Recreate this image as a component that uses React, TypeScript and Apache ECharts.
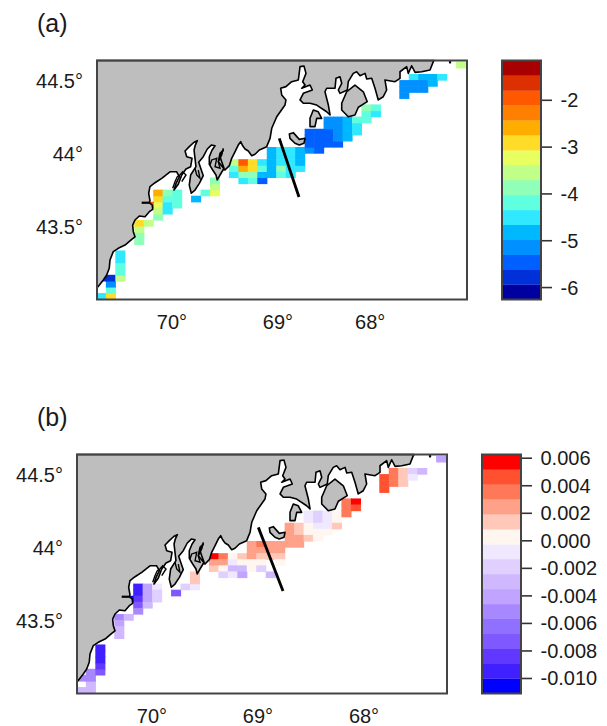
import React, { useEffect, useRef } from "react";
import * as echarts from "echarts";

const FONT = '"Liberation Sans", Arial, sans-serif';
const TEXT = "#1a1a1a";
const FRAME = "#444444";
const LAND = "#BEBEBE";

const LON_MAX = 70.7075;
const LON_MIN = 67.217;
const LAT_MIN = 43.0034;
const LAT_MAX = 44.64;
const LAT_TICKS = [43.5, 44, 44.5];
const LON_LABELS_A = [70, 69, 68.13];
const LON_LABELS_B = [70, 69, 68];

// grid of the model: cell index -> degrees
const CELL_LON0 = 70.7104;
const CELL_DLON = 0.0893;
const CELL_LAT0 = 43.0038;
const CELL_DLAT = 0.04167;

const coast: number[][] = [
  [70.698,43.091],[70.648,43.137],[70.616,43.171],[70.592,43.217],[70.585,43.274],[70.554,43.331],[70.507,43.354],[70.443,43.376],
  [70.380,43.415],[70.349,43.433],[70.365,43.468],[70.371,43.513],[70.349,43.548],[70.308,43.575],[70.255,43.570],[70.214,43.605],
  [70.182,43.621],[70.186,43.650],[70.214,43.666],[70.208,43.680],[70.220,43.731],[70.208,43.776],[70.160,43.803],[70.097,43.833],
  [70.019,43.878],[69.956,43.878],[69.931,43.844],[69.962,43.799],[69.981,43.753],[69.941,43.792],[69.908,43.856],[69.868,43.897],
  [69.824,43.913],[69.811,43.970],[69.861,43.981],[69.877,44.020],[69.837,44.050],[69.792,44.080],[69.761,44.091],[69.780,44.061],
  [69.792,44.027],[69.783,43.970],[69.774,43.913],[69.824,43.856],[69.837,43.787],[69.818,43.731],[69.783,43.753],[69.742,43.799],
  [69.705,43.851],[69.729,43.902],[69.748,43.943],[69.705,43.981],[69.667,44.034],[69.629,44.061],[69.594,44.056],[69.623,44.025],
  [69.648,43.981],[69.648,43.929],[69.616,43.890],[69.585,43.856],[69.573,43.822],[69.547,43.856],[69.509,43.902],[69.531,43.947],
  [69.547,43.981],[69.516,44.027],[69.547,44.004],[69.563,43.947],[69.500,43.890],[69.459,43.920],[69.437,43.970],[69.406,44.015],
  [69.375,44.061],[69.352,44.084],[69.333,44.056],[69.311,44.034],[69.280,44.020],[69.248,43.988],[69.217,43.998],[69.176,44.027],
  [69.107,44.050],[69.075,44.107],[69.059,44.176],[69.012,44.255],[68.934,44.335],[68.925,44.370],[68.965,44.404],[68.975,44.450],
  [68.925,44.461],[68.871,44.495],[68.808,44.507],[68.792,44.598],[68.755,44.602],[68.736,44.552],[68.767,44.495],[68.745,44.472],
  [68.776,44.450],[68.698,44.472],[68.676,44.438],[68.761,44.415],[68.792,44.370],[68.761,44.347],[68.698,44.347],[68.635,44.335],
  [68.541,44.289],[68.509,44.267],[68.525,44.335],[68.557,44.426],[68.541,44.450],[68.462,44.450],[68.453,44.518],[68.415,44.529],
  [68.399,44.484],[68.431,44.438],[68.415,44.415],[68.346,44.438],[68.337,44.495],[68.290,44.552],[68.258,44.563],[68.226,44.536],
  [68.179,44.552],[68.163,44.513],[68.116,44.518],[68.085,44.450],[68.054,44.370],[68.007,44.392],[67.975,44.438],[67.991,44.507],
  [67.896,44.495],[67.849,44.518],[67.849,44.563],[67.786,44.598],[67.771,44.552],[67.739,44.604],[67.707,44.559],[67.644,44.563],
  [67.566,44.575],[67.535,44.632],[67.528,44.640],[70.7075,44.640],[70.7075,43.091],
];
const mountDesert = [[68.399,44.347],[68.352,44.426],[68.274,44.472],[68.195,44.426],[68.158,44.358],[68.242,44.320],[68.274,44.267],[68.337,44.255],[68.399,44.301]];
const deerIsle = [[68.667,44.301],[68.620,44.289],[68.588,44.244],[68.635,44.244],[68.651,44.187],[68.698,44.187],[68.698,44.244]];
const vinalhaven = [[68.893,44.137],[68.856,44.146],[68.799,44.100],[68.745,44.107],[68.755,44.073],[68.799,44.061],[68.840,44.073],[68.887,44.107]];
const jetty = [[70.286,43.666],[70.208,43.666]];
const topMark = [[67.377,44.640],[67.377,44.620]];
const transectA = [[68.988,44.107],[68.802,43.705]];
const transectB = [[68.997,44.141],[68.764,43.705]];
const innerLine1 = [[69.993,43.765],[69.972,43.810],[69.950,43.844],[69.925,43.856],[69.899,43.878],[69.868,43.856],[69.908,43.810]];
const innerLine2 = [[69.783,43.902],[69.767,43.856],[69.736,43.833],[69.752,43.890]];
const innerLine3 = [[69.642,43.924],[69.625,43.959],[69.578,43.970],[69.594,43.913],[69.547,43.902],[69.563,43.947],[69.531,43.993],[69.516,44.039]];

// [column, row, value]
const cellsA: number[][] = [
  [0,0,-4.5],[1,0,-2.91],[1,1,-4.18],[1,2,-5.14],[1,3,-5.78],[0,3,-5.78],[2,3,-3.55],[2,4,-4.18],[2,5,-4.18],[2,6,-4.5],[2,7,-4.5],
  [4,9,-3.86],[4,10,-3.86],[4,11,-3.55],[4,12,-2.91],[5,12,-3.55],[6,13,-3.86],[6,14,-3.55],[6,15,-3.23],[6,16,-2.91],[6,17,-2.59],[5,15,-1.95],
  [7,14,-4.5],[7,15,-4.5],[7,16,-4.18],[7,17,-3.86],[8,15,-4.18],[8,16,-4.18],[8,17,-4.18],[10,16,-4.82],[11,17,-4.18],[12,17,-3.23],[12,18,-3.55],[12,19,-3.86],
  [14,20,-4.5],[14,21,-4.18],[14,22,-3.7],[15,19,-4.5],[15,20,-3.86],[15,21,-2.59],[15,22,-1.95],[16,19,-4.18],[16,20,-3.86],[16,21,-2.91],[16,22,-2.91],
  [17,19,-5.46],[17,20,-4.82],[17,21,-4.18],[17,22,-4.5],[18,20,-4.82],[18,21,-4.82],[18,22,-4.82],[18,23,-4.82],[18,24,-4.82],
  [19,20,-4.18],[19,21,-3.86],[19,22,-4.5],[19,23,-4.5],[19,24,-4.5],[20,20,-4.5],[20,21,-4.5],[20,22,-4.5],[20,23,-4.5],[20,24,-4.5],
  [21,21,-4.5],[21,22,-4.82],[21,23,-4.82],[21,24,-4.82],[22,24,-5.14],[23,24,-5.46],
  [22,25,-5.46],[23,25,-5.46],[24,25,-5.46],[25,25,-5.46],[22,26,-5.46],[23,26,-5.46],[24,26,-5.46],[22,27,-5.46],[23,27,-5.46],[24,27,-5.46],
  [25,26,-5.14],[25,27,-5.14],[25,28,-5.14],[25,29,-5.14],[24,28,-5.14],[24,29,-5.14],[26,26,-4.82],[26,27,-4.82],[26,28,-4.82],[26,29,-4.82],
  [27,27,-4.5],[27,28,-4.5],[27,29,-4.18],[28,29,-4.18],[28,30,-4.18],[28,31,-3.86],[29,30,-4.5],[29,31,-4.18],
  [33,36,-4.5],[34,36,-4.82],[35,36,-4.82],[36,36,-4.5],[32,35,-5.14],[33,35,-5.14],[34,35,-5.14],[35,35,-4.82],[32,34,-5.14],[33,34,-5.14],[34,34,-5.14],[32,33,-5.14],
  [38,38,-3.55],
];
const cellsB: number[][] = [
  [0,0,-0.003],[1,0,-0.003],[1,1,-0.003],[0,2,-0.0051],[1,2,-0.0051],[1,3,-0.0051],[2,3,-0.0073],[2,4,-0.0084],[2,5,-0.0095],[2,6,-0.0095],[2,7,-0.0095],
  [4,12,-0.0051],[4,11,-0.004],[4,10,-0.003],[4,9,-0.003],[5,12,-0.003],[6,17,-0.0095],[6,16,-0.0095],[6,15,-0.0084],[6,14,-0.0073],[6,13,-0.0051],
  [7,17,-0.004],[7,16,-0.004],[7,15,-0.004],[7,14,-0.003],[5,15,-0.0105],[8,17,-0.0008],[8,16,-0.0019],[8,15,-0.0019],[10,16,-0.0073],[11,17,-0.0019],[12,17,-0.0008],[12,18,0.0014],[12,19,0.0014],
  [14,22,0.0057],[14,21,0.0025],[14,20,0.0014],[15,22,0.0036],[15,21,0.0025],[15,20,0.0003],[15,19,-0.0019],[16,22,0.0003],[16,21,-0.0008],[16,20,-0.003],[16,19,-0.0008],
  [17,22,0.0014],[17,21,0.0003],[17,20,-0.003],[17,19,-0.004],[18,24,0.0025],[18,23,0.0025],[18,22,0.0025],[18,21,0.0003],[18,20,0.0003],
  [19,24,0.0036],[19,23,0.0025],[19,22,0.0014],[19,21,0.0003],[19,20,-0.0019],[20,24,0.0025],[20,23,0.0025],[20,22,0.0014],[20,19,-0.003],
  [21,24,0.0025],[21,23,0.0025],[21,22,0.0014],[21,21,0.0003],[22,27,0.0025],[22,26,0.0025],[22,25,0.0025],[22,24,0.0025],[23,27,0.0014],[23,26,0.0014],[23,25,0.0025],[23,24,0.0025],
  [24,29,-0.0008],[24,28,-0.0008],[24,27,0.0003],[24,26,0.0003],[24,25,0.0014],[25,29,-0.0019],[25,28,-0.0019],[25,27,-0.0008],[25,26,0.0003],[25,25,0.0003],
  [26,29,-0.0008],[26,28,-0.0008],[26,27,-0.0008],[26,26,0.0003],[27,29,0.0003],[27,28,0.0003],[27,27,0.0014],
  [28,31,0.0036],[28,30,0.0036],[28,29,0.0036],[29,31,0.0057],[29,30,0.0047],
  [32,35,0.0047],[32,34,0.0047],[32,33,0.0047],[33,36,0.0036],[33,35,0.0036],[33,34,0.0036],[34,36,0.0014],[34,35,0.0014],[34,34,0.0014],
  [35,36,-0.0019],[35,35,-0.0008],[36,36,-0.003],[38,38,-0.004],
];

const barColorsA = ["#0000A0","#0030D8","#0060FF","#0090FF","#00B8FF","#30E8FF","#60FFE0","#90FFB8","#C0FF88","#E8FF60","#FFDC28","#FFAE00","#FF8000","#FF5800","#DC3000","#A80000"];
const barColorsB = ["#0000FF","#4020FF","#6038FF","#8058FF","#9070FF","#A888FF","#C0A4FF","#D0B8FF","#E0D0FF","#F0E8FF","#FFF6F0","#FFC8B8","#FFA088","#FF7858","#FF5030","#FF0000"];
const BAR_A_MIN = -6.255, BAR_A_MAX = -1.15;
const BAR_B_MIN = -0.01109, BAR_B_MAX = 0.00627;
const barTicksA = [-6, -5, -4, -3, -2];
const barTicksB = [-0.01, -0.008, -0.006, -0.004, -0.002, 0, 0.002, 0.004, 0.006];

const binColor = (v: number, lo: number, hi: number, colors: string[]) =>
  colors[Math.max(0, Math.min(colors.length - 1, Math.floor(((v - lo) / (hi - lo)) * colors.length)))];

const polySeries = (idx: number, list: number[][][], z: number) => ({
  type: "custom", xAxisIndex: idx, yAxisIndex: idx, z, silent: true,
  data: list.map((p, i) => [p[0][0], p[0][1], i]),
  renderItem: (_: any, api: any) => ({
    type: "polygon",
    shape: { points: list[api.value(2)].map((p) => api.coord(p)) },
    style: { fill: LAND, stroke: "#000", lineWidth: 1.6, lineJoin: "round" },
  }),
});

const lineSeries = (idx: number, list: number[][][], width: number, z: number) => ({
  type: "custom", xAxisIndex: idx, yAxisIndex: idx, z, silent: true,
  data: list.map((p, i) => [p[0][0], p[0][1], i]),
  renderItem: (_: any, api: any) => ({
    type: "polyline",
    shape: { points: list[api.value(2)].map((p) => api.coord(p)) },
    style: { fill: "none", stroke: "#000", lineWidth: width },
  }),
});

const frameSeries = (idx: number, x0: number, x1: number, y0: number, y1: number) => ({
  type: "custom", xAxisIndex: idx, yAxisIndex: idx, z: 9, silent: true,
  data: [[x0, y0]],
  renderItem: (_: any, api: any) => {
    const a = api.coord([x0, y1]);
    const b = api.coord([x1, y0]);
    return {
      type: "rect",
      shape: { x: Math.min(a[0], b[0]), y: a[1], width: Math.abs(b[0] - a[0]), height: b[1] - a[1] },
      style: { fill: "none", stroke: FRAME, lineWidth: 2 },
    };
  },
});

const cellSeries = (idx: number, cells: number[][], lo: number, hi: number, colors: string[]) => ({
  type: "custom", xAxisIndex: idx, yAxisIndex: idx, z: 2, silent: true,
  data: cells.map(([c, r, v]) => [CELL_LON0 - c * CELL_DLON, CELL_LAT0 + r * CELL_DLAT, v]),
  renderItem: (_: any, api: any) => {
    const lon = api.value(0), lat = api.value(1);
    const a = api.coord([lon, lat + CELL_DLAT]);
    const b = api.coord([lon - CELL_DLON, lat]);
    return {
      type: "rect",
      shape: { x: a[0] - 0.3, y: a[1] - 0.3, width: b[0] - a[0] + 0.6, height: b[1] - a[1] + 0.6 },
      style: { fill: binColor(api.value(2), lo, hi, colors) },
    };
  },
});

const barSeries = (idx: number, lo: number, hi: number, colors: string[]) => ({
  type: "custom", xAxisIndex: idx, yAxisIndex: idx, z: 2, silent: true,
  data: colors.map((_, i) => [0, lo + ((hi - lo) * i) / colors.length, i]),
  renderItem: (_: any, api: any) => {
    const step = (hi - lo) / colors.length;
    const a = api.coord([0, api.value(1) + step]);
    const b = api.coord([1, api.value(1)]);
    return {
      type: "rect",
      shape: { x: a[0], y: a[1], width: b[0] - a[0], height: b[1] - a[1] + 0.3 },
      style: { fill: colors[api.value(2)] },
    };
  },
});

const tickSeries = (idx: number, ticks: number[]) => ({
  type: "custom", xAxisIndex: idx, yAxisIndex: idx, z: 8, silent: true, clip: false,
  data: ticks.map((t) => [1, t]),
  renderItem: (_: any, api: any) => {
    const p = api.coord([1, api.value(1)]);
    return {
      type: "line",
      shape: { x1: p[0], y1: p[1], x2: p[0] + 11, y2: p[1] },
      style: { stroke: "#333", lineWidth: 1.6 },
    };
  },
});

const labelStyle = { fontFamily: FONT, fontSize: 20, color: TEXT };

const mapX = (grid: number, labels: number[]) => ({
  type: "value", gridIndex: grid, min: LON_MIN, max: LON_MAX, inverse: true, splitLine: { show: false },
  axisLine: { show: false }, axisTick: { show: false },
  axisLabel: { ...labelStyle, margin: 12, customValues: labels, formatter: (v: number) => `${Math.round(v)}°`, hideOverlap: false },
});
const mapY = (grid: number) => ({
  type: "value", gridIndex: grid, min: LAT_MIN, max: LAT_MAX, splitLine: { show: false },
  axisLine: { show: false }, axisTick: { show: false },
  axisLabel: { ...labelStyle, margin: 14, customValues: LAT_TICKS, formatter: (v: number) => `${v}°` },
});
const barX = (grid: number) => ({ type: "value", gridIndex: grid, min: 0, max: 1, show: false });
const barY = (grid: number, lo: number, hi: number, ticks: number[], fmt: (v: number) => string) => ({
  type: "value", gridIndex: grid, position: "right", min: lo, max: hi, splitLine: { show: false },
  axisLine: { show: false }, axisTick: { show: false },
  axisLabel: { ...labelStyle, margin: 19.5, align: "left", customValues: ticks, formatter: fmt },
});

export default function App() {
  const ref = useRef<HTMLDivElement>(null);
  useEffect(() => {
    const chart = echarts.init(ref.current!, null, { renderer: "svg" });
    const land = [coast, mountDesert, deerIsle, vinalhaven];
    const inner = [innerLine1, innerLine2, innerLine3];
    chart.setOption({
      animation: false,
      backgroundColor: "#fff",
      title: [
        { text: "(a)", left: 32, top: 5, textStyle: { fontFamily: FONT, fontSize: 25, fontWeight: "normal", color: TEXT } },
        { text: "(b)", left: 32, top: 399, textStyle: { fontFamily: FONT, fontSize: 25, fontWeight: "normal", color: TEXT } },
      ],
      grid: [
        { left: 97, top: 60.5, width: 370, height: 239 },
        { left: 77, top: 454.5, width: 370, height: 239 },
        { left: 502, top: 60.5, width: 39, height: 239 },
        { left: 482, top: 454.5, width: 39, height: 239 },
      ],
      xAxis: [mapX(0, LON_LABELS_A), mapX(1, LON_LABELS_B), barX(2), barX(3)],
      yAxis: [
        mapY(0), mapY(1),
        barY(2, BAR_A_MIN, BAR_A_MAX, barTicksA, (v) => `${v}`),
        barY(3, BAR_B_MIN, BAR_B_MAX, barTicksB, (v) => v.toFixed(3)),
      ],
      series: [
        cellSeries(0, cellsA, BAR_A_MIN, BAR_A_MAX, barColorsA),
        polySeries(0, land, 3),
        lineSeries(0, inner, 1.4, 4),
        lineSeries(0, [jetty, topMark], 2.2, 4),
        lineSeries(0, [transectA], 2.8, 5),
        frameSeries(0, LON_MIN, LON_MAX, LAT_MIN, LAT_MAX),
        cellSeries(1, cellsB, BAR_B_MIN, BAR_B_MAX, barColorsB),
        polySeries(1, land, 3),
        lineSeries(1, inner, 1.4, 4),
        lineSeries(1, [jetty, topMark], 2.2, 4),
        lineSeries(1, [transectB], 2.8, 5),
        frameSeries(1, LON_MIN, LON_MAX, LAT_MIN, LAT_MAX),
        barSeries(2, BAR_A_MIN, BAR_A_MAX, barColorsA),
        frameSeries(2, 0, 1, BAR_A_MIN, BAR_A_MAX),
        tickSeries(2, barTicksA),
        barSeries(3, BAR_B_MIN, BAR_B_MAX, barColorsB),
        frameSeries(3, 0, 1, BAR_B_MIN, BAR_B_MAX),
        tickSeries(3, barTicksB),
      ],
    });
    return () => chart.dispose();
  }, []);
  return <div ref={ref} style={{ position: "absolute", left: 0, top: 0, width: 607, height: 726 }} />;
}
